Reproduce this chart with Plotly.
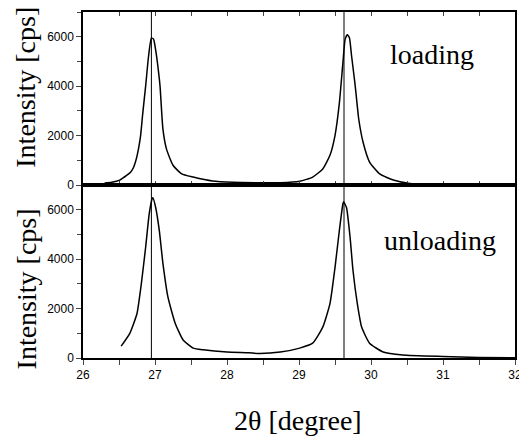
import plotly.graph_objects as go

# loading (upper panel)
load_x = [26.3, 26.4, 26.51, 26.61, 26.66, 26.7, 26.74, 26.77, 26.8, 26.83, 26.87, 26.91, 26.95, 26.98,
          27.01, 27.04, 27.07, 27.11, 27.16, 27.25, 27.37, 27.53, 27.8, 28.08, 28.5, 28.74,
          29.01, 29.19, 29.33, 29.43, 29.5, 29.56, 29.61, 29.64, 29.67, 29.7, 29.73, 29.78,
          29.83, 29.89, 29.98, 30.12, 30.31, 30.54, 30.9, 31.3, 31.7, 32.0]
load_y = [80, 110, 200, 400, 520, 700, 1050, 1450, 2000, 2900, 4000, 5200, 5950, 5900,
          5450, 4800, 4000, 2260, 1450, 800, 450, 320, 160, 110, 90, 90,
          150, 320, 650, 1200, 2000, 3300, 4950, 5880, 6080, 5960, 5230, 4030,
          2660, 1730, 930, 450, 200, 60, 30, 10, 5, 0]

# unloading (lower panel)
unload_x = [26.53, 26.65, 26.75, 26.81, 26.87, 26.92, 26.96, 26.97, 27.01, 27.06, 27.11,
            27.18, 27.28, 27.39, 27.53, 27.67, 28.0, 28.3, 28.46, 28.74, 29.01, 29.19,
            29.33, 29.43, 29.5, 29.56, 29.61, 29.62, 29.66, 29.71, 29.75, 29.81, 29.87,
            29.98, 30.17, 30.44, 31.0, 31.5, 32.0]
unload_y = [480, 1000, 1800, 3000, 4480, 5840, 6440, 6480, 6080, 5150, 3830,
            2460, 1410, 730, 400, 330, 240, 210, 180, 240, 400, 600,
            1250, 2200, 3660, 5150, 6240, 6320, 6080, 4870, 3540, 2200, 1250,
            600, 240, 120, 60, 20, 10]

peak_lines = [26.95, 29.625]
x_ticks = [26, 27, 28, 29, 30, 31, 32]
y_ticks = [0, 2000, 4000, 6000]

fig = go.Figure()
fig.add_trace(go.Scatter(x=load_x, y=load_y, mode="lines",
                         line=dict(color="black", width=1.5, shape="spline", smoothing=0.5),
                         xaxis="x", yaxis="y", showlegend=False))
fig.add_trace(go.Scatter(x=unload_x, y=unload_y, mode="lines",
                         line=dict(color="black", width=1.5, shape="spline", smoothing=0.5),
                         xaxis="x2", yaxis="y2", showlegend=False))

for v in peak_lines:
    fig.add_shape(type="line", xref="x2", yref="paper", x0=v, x1=v, y0=0, y1=1,
                  line=dict(color="black", width=1))

tickfont = dict(family="Liberation Sans, Arial, sans-serif", size=12, color="black")
common_y = dict(range=[0, 7000], tickvals=y_ticks, ticks="outside", ticklen=5, tickwidth=1.2,
                showline=True, linecolor="black", linewidth=1.5, mirror=True,
                showgrid=False, zeroline=False, tickfont=tickfont,
                minor=dict(dtick=1000, ticks="outside", ticklen=4, tickwidth=1.2, showgrid=False))

# the page body has an 8px margin, so the figure is made 8px smaller
fig.update_layout(
    width=519, height=430,
    margin=dict(l=75, r=12, t=2, b=80),
    paper_bgcolor="white", plot_bgcolor="white",
    xaxis=dict(domain=[0, 1], anchor="y", range=[26, 32], dtick=0.5, tick0=26, ticks="inside",
               ticklen=4, tickwidth=1.2, showticklabels=False, showline=True, linecolor="black",
               linewidth=1.5, mirror="ticks", showgrid=False, zeroline=False),
    yaxis=dict(domain=[0.5, 1], anchor="x", **common_y),
    xaxis2=dict(domain=[0, 1], anchor="y2", range=[26, 32], tickvals=x_ticks, ticks="outside",
                ticklen=5, tickwidth=1.2, showline=True, linecolor="black", linewidth=1.5,
                mirror=True, showgrid=False, zeroline=False, tickfont=tickfont,
                minor=dict(dtick=0.5, tick0=26, ticks="outside", ticklen=5, tickwidth=1.2, showgrid=False)),
    yaxis2=dict(domain=[0, 0.5], anchor="x2", **common_y),
)

serif = dict(family="Liberation Serif, Times New Roman, serif", size=28, color="black")
fig.add_annotation(text="Intensity [cps]", xref="paper", yref="paper", x=-0.132, y=0.784,
                   textangle=-90, showarrow=False, font=serif, xanchor="center", yanchor="middle")
fig.add_annotation(text="Intensity [cps]", xref="paper", yref="paper", x=-0.132, y=0.201,
                   textangle=-90, showarrow=False, font=serif, xanchor="center", yanchor="middle")
fig.add_annotation(text="2θ [degree]", xref="paper", yref="paper", x=0.497, y=-0.181,
                   showarrow=False, font=serif, xanchor="center", yanchor="middle")
fig.add_annotation(text="loading", xref="paper", yref="paper", x=0.808, y=0.876,
                   showarrow=False, font=serif, xanchor="center", yanchor="middle")
fig.add_annotation(text="unloading", xref="paper", yref="paper", x=0.826, y=0.339,
                   showarrow=False, font=serif, xanchor="center", yanchor="middle")

fig.write_html("out.html")
